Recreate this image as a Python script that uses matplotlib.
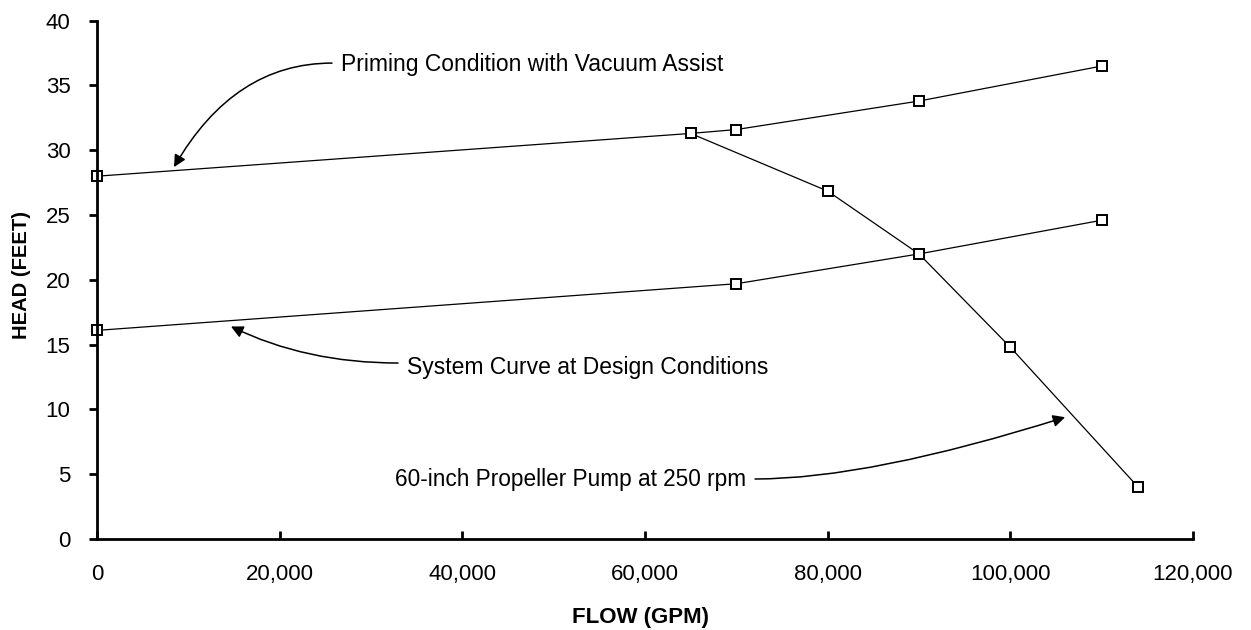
import matplotlib
matplotlib.use("Agg")
import matplotlib.pyplot as plt
from matplotlib.ticker import FuncFormatter

# Data
priming_flow = [0, 65000, 70000, 90000, 110000]
priming_head = [28.0, 31.3, 31.6, 33.8, 36.5]
system_flow = [0, 70000, 90000, 110000]
system_head = [16.1, 19.7, 22.0, 24.6]
pump_flow = [65000, 80000, 90000, 100000, 114000]
pump_head = [31.3, 26.85, 22.0, 14.8, 4.0]

x_ticks = [0, 20000, 40000, 60000, 80000, 100000, 120000]
y_ticks = [0, 5, 10, 15, 20, 25, 30, 35, 40]

labels = ['Priming Condition with Vacuum Assist',
          'System Curve at Design Conditions',
          '60-inch Propeller Pump at 250 rpm']

plt.rcParams['font.family'] = ['Liberation Sans', 'DejaVu Sans']

fig = plt.figure(figsize=(12.51, 6.30), dpi=100)
ax = fig.add_axes([97/1251, 1 - 539/630, (1193-97)/1251, (539-20.7)/630])

style = dict(color='black', lw=0.9, marker='s', markersize=7, markerfacecolor='white',
             markeredgecolor='black', markeredgewidth=1.4, clip_on=False)
ax.plot(priming_flow, priming_head, **style)
ax.plot(system_flow, system_head, **style)
ax.plot(pump_flow, pump_head, **style)

ax.set_xlim(0, 120000)
ax.set_ylim(0, 40)
ax.set_xticks(x_ticks)
ax.set_yticks(y_ticks)
ax.xaxis.set_major_formatter(FuncFormatter(lambda v, p: f"{int(v):,}"))

for s in ['top', 'right']:
    ax.spines[s].set_visible(False)
for s in ['left', 'bottom']:
    ax.spines[s].set_linewidth(2.0)

ax.tick_params(axis='y', direction='out', length=6, width=2.0, labelsize=16, pad=13)
ax.tick_params(axis='x', direction='in', length=6, width=2.0, labelsize=16, pad=18)

ax.set_xlabel('FLOW (GPM)', fontsize=16, fontweight='bold', va='center')
ax.xaxis.set_label_coords(0.496, -(618 - 539) / 518.3)
ax.set_ylabel('HEAD (FEET)', fontsize=14.5, fontweight='bold', va='center')
ax.yaxis.set_label_coords(-(97 - 22) / 1096, 0.51)

arrowprops = dict(arrowstyle='-|>', color='black', lw=1.1, mutation_scale=18,
                  shrinkA=0, shrinkB=0)

# Text labels
ax.text(26700, 36.6, labels[0], fontsize=16.5, va='center', ha='left')
ax.text(33950, 13.2, labels[1], fontsize=16.5, va='center', ha='left')
ax.text(32630, 4.6, labels[2], fontsize=16.3, va='center', ha='left')

# Curved arrows
ax.annotate('', xy=(8430, 28.7), xytext=(25730, 36.73),
            arrowprops=dict(connectionstyle='angle3,angleA=0,angleB=60', **arrowprops))
ax.annotate('', xy=(14670, 16.4), xytext=(32960, 13.58),
            arrowprops=dict(connectionstyle='angle3,angleA=0,angleB=-26', **arrowprops))
ax.annotate('', xy=(106000, 9.4), xytext=(72050, 4.63),
            arrowprops=dict(connectionstyle='angle3,angleA=0,angleB=17.5', **arrowprops))

fig.savefig('out.png', dpi=100)
